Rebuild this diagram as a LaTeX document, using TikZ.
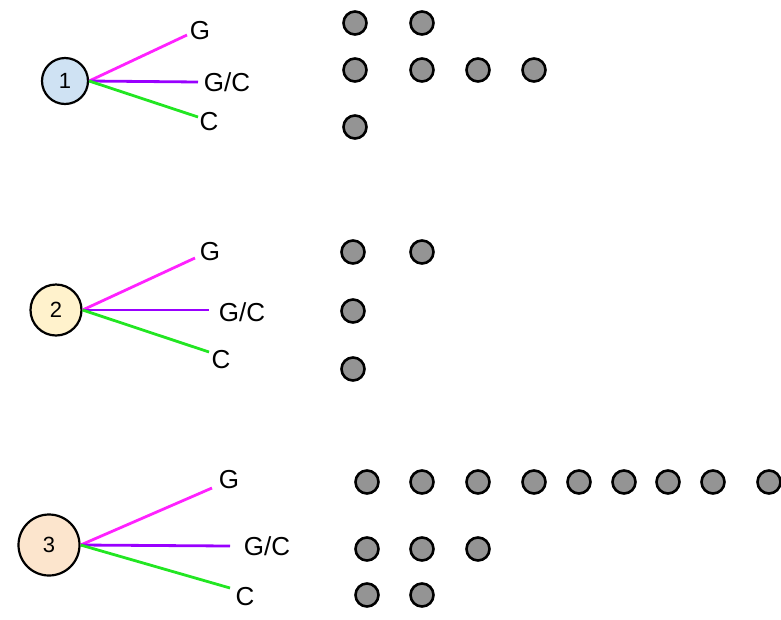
\documentclass[tikz,border=0pt]{standalone}
\usepackage{fontspec}
\setmainfont{Liberation Sans}
\definecolor{cblue}{HTML}{CFE2F3}
\definecolor{cyel}{HTML}{FFF2CC}
\definecolor{corg}{HTML}{FCE5CD}
\definecolor{lmag}{HTML}{FF22FF}
\definecolor{lpur}{HTML}{9900FF}
\definecolor{lgrn}{HTML}{22E622}
\tikzset{
  num/.style={circle, draw=black, line width=2.2pt, inner sep=0pt, font=\fontsize{22}{24}\selectfont},
  lab/.style={inner sep=0pt, font=\fontsize{26}{28}\selectfont},
  dot/.style={circle, draw=black, line width=2.6pt, fill=black!42, minimum size=23pt, inner sep=0pt},
  gl/.style={lmag, line width=2.8pt},
  gcl/.style={lpur, line width=2.8pt},
  cl/.style={lgrn, line width=2.8pt},
}
\begin{document}
\begin{tikzpicture}[x=1pt,y=-1pt]
\useasboundingbox (0,0) rectangle (781,619);
% group 1
\node[num, fill=cblue, minimum size=46pt] (n1) at (65,81) {1};
\coordinate (g1) at (187,35);
\coordinate (gc1) at (198,82);
\coordinate (c1) at (198,117);
\node[lab] (tg1) at (200,31) {G};
\node[lab] (tgc1) at (227,82) {G/C};
\node[lab] (tc1) at (209,122) {C};
\draw[gl] (n1.east) -- (g1);
\draw[gcl] (n1.east) -- (gc1);
\draw[cl] (n1.east) -- (c1);
% group 2
\node[num, fill=cyel, minimum size=51pt] (n2) at (56,310) {2};
\coordinate (g2) at (195,258);
\coordinate (gc2) at (209,310);
\coordinate (c2) at (209,352);
\node[lab] (tg2) at (210,252) {G};
\node[lab] (tgc2) at (242,312) {G/C};
\node[lab] (tc2) at (221,360) {C};
\draw[gl] (n2.east) -- (g2);
\draw[gcl] (n2.east) -- (gc2);
\draw[cl] (n2.east) -- (c2);
% group 3
\node[num, fill=corg, minimum size=61pt] (n3) at (49,545) {3};
\coordinate (g3) at (212,488);
\coordinate (gc3) at (230,546);
\coordinate (c3) at (230,588);
\node[lab] (tg3) at (229,480) {G};
\node[lab] (tgc3) at (267,546) {G/C};
\node[lab] (tc3) at (245,597) {C};
\draw[gl] (n3.east) -- (g3);
\draw[gcl] (n3.east) -- (gc3);
\draw[cl] (n3.east) -- (c3);
% dots group 1
\foreach \x [count=\i] in {355,422} \node[dot] (d1a\i) at (\x,23) {};
\foreach \x [count=\i] in {355,422,478,534} \node[dot] (d1b\i) at (\x,70) {};
\node[dot] (d1c1) at (355,127) {};
% dots group 2
\foreach \x [count=\i] in {353,422} \node[dot] (d2a\i) at (\x,252) {};
\node[dot] (d2b1) at (353,311) {};
\node[dot] (d2c1) at (353,369) {};
% dots group 3
\foreach \x [count=\i] in {367,422,478,534,579,624,668,713,769} \node[dot] (d3a\i) at (\x,482) {};
\foreach \x [count=\i] in {367,422,478} \node[dot] (d3b\i) at (\x,549) {};
\foreach \x [count=\i] in {367,422} \node[dot] (d3c\i) at (\x,595) {};
\end{tikzpicture}
\end{document}
